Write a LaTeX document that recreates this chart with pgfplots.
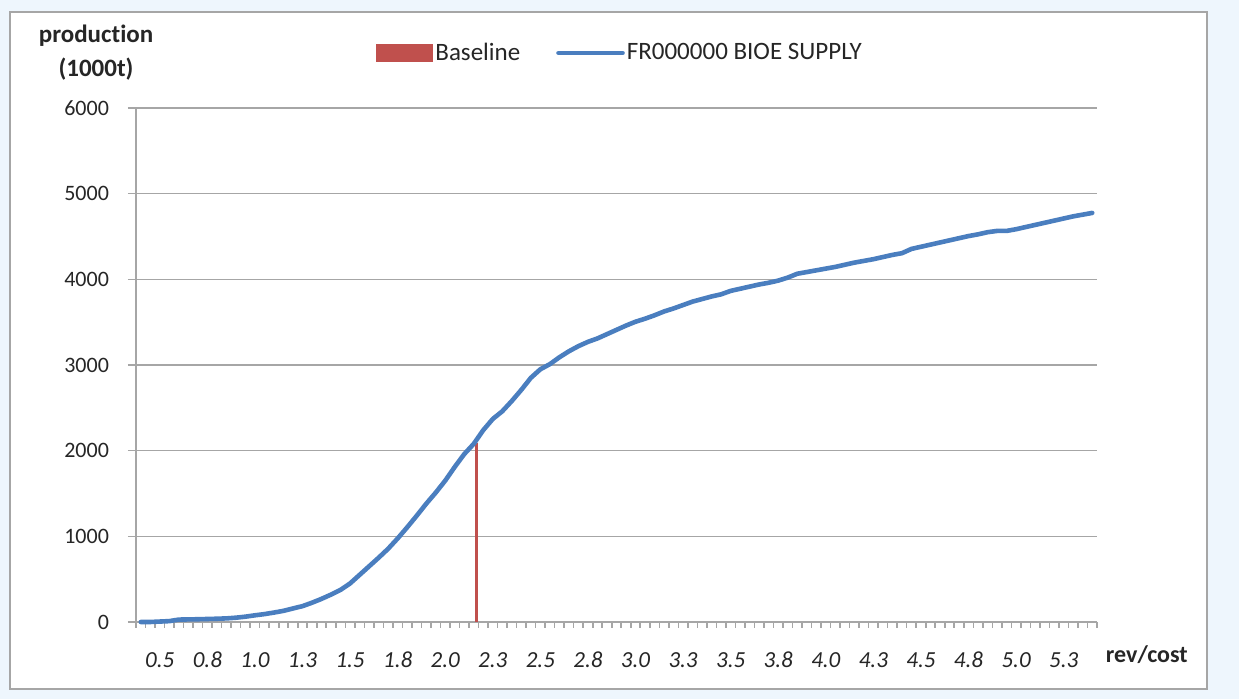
\documentclass[border=0pt]{standalone}
\usepackage{fontspec}
\setmainfont{Carlito}[Ligatures=NoCommon]
\usepackage{pgfplots}
\usepackage{pgfplotstable}
\pgfplotsset{compat=1.18}
\definecolor{bgblue}{HTML}{EEF6FD}
\definecolor{xlred}{HTML}{C0504D}
\definecolor{xlblue}{HTML}{4A7EBF}
\definecolor{gridgray}{HTML}{A6A6A6}
\definecolor{txt}{HTML}{262626}

\pgfplotstableread{
x y
0.40 0
0.45 0
0.50 5
0.55 10
0.60 28
0.65 30
0.70 32
0.75 35
0.80 38
0.85 42
0.90 50
0.95 62
1.00 78
1.05 92
1.10 110
1.15 130
1.20 158
1.25 185
1.30 225
1.35 270
1.40 320
1.45 375
1.50 450
1.55 550
1.60 650
1.65 750
1.70 855
1.75 975
1.80 1105
1.85 1240
1.90 1380
1.95 1510
2.00 1650
2.05 1810
2.10 1960
2.15 2080
2.20 2240
2.25 2370
2.30 2460
2.35 2580
2.40 2710
2.45 2850
2.50 2950
2.55 3010
2.60 3090
2.65 3160
2.70 3220
2.75 3270
2.80 3310
2.85 3360
2.90 3410
2.95 3460
3.00 3505
3.05 3540
3.10 3580
3.15 3625
3.20 3660
3.25 3700
3.30 3740
3.35 3770
3.40 3800
3.45 3825
3.50 3865
3.55 3890
3.60 3915
3.65 3940
3.70 3960
3.75 3985
3.80 4020
3.85 4065
3.90 4085
3.95 4105
4.00 4125
4.05 4145
4.10 4170
4.15 4195
4.20 4215
4.25 4235
4.30 4260
4.35 4285
4.40 4305
4.45 4355
4.50 4380
4.55 4405
4.60 4430
4.65 4455
4.70 4480
4.75 4505
4.80 4525
4.85 4550
4.90 4565
4.95 4565
5.00 4585
5.05 4610
5.10 4635
5.15 4660
5.20 4685
5.25 4710
5.30 4735
5.35 4755
5.40 4775
}\supply

\begin{document}
\begin{tikzpicture}[x=0.5pt,y=0.5pt]
\path[use as bounding box, fill=bgblue] (0,0) rectangle (1239,699);
\draw[fill=white, draw=gridgray, line width=0.8pt] (10,10) rectangle (1207,687);
\begin{axis}[
  at={(68pt,38.5pt)}, anchor=south west,
  scale only axis, width=480.5pt, height=257pt,
  xmin=0.375, xmax=5.425, ymin=0, ymax=6000,
  axis x line*=bottom, axis y line*=left,
  axis line style={gridgray, line width=0.8pt},
  tick align=outside,
  major tick length=4pt,
  minor tick length=2.8pt,
  ytick={0,1000,...,6000},
  yticklabels={0,1000,2000,3000,4000,5000,6000},
  ymajorgrids=true,
  grid style={gridgray, line width=0.8pt},
  y tick style={gridgray, line width=0.8pt},
  yticklabel style={font=\fontsize{11}{13}\selectfont, text=txt, xshift=-6pt},
  minor xtick={0.375,0.425,...,5.43},
  minor x tick style={gridgray, line width=0.8pt},
  xtick={0.5,0.75,1.0,1.25,1.5,1.75,2.0,2.25,2.5,2.75,3.0,3.25,3.5,3.75,4.0,4.25,4.5,4.75,5.0,5.25},
  xticklabels={0.5,0.8,1.0,1.3,1.5,1.8,2.0,2.3,2.5,2.8,3.0,3.3,3.5,3.8,4.0,4.3,4.5,4.8,5.0,5.3},
  major x tick style={draw=none},
  xticklabel style={font=\itshape\fontsize{11.5}{13}\selectfont, text=txt, anchor=center, yshift=-15pt},
  xlabel={rev/cost},
  x label style={at={(axis description cs:1.002,-0.064)}, anchor=west, font=\bfseries\fontsize{12}{14}\selectfont, text=txt},
  ylabel={produc\kern0pt tion\\(1000t)},
  y label style={at={(axis description cs:-0.0416,1.107)}, rotate=-90, anchor=center, align=center, font=\bfseries\fontsize{12.5}{17}\selectfont, text=txt},
  legend columns=2,
  legend style={at={(axis description cs:0.2435,1.107)}, anchor=west, draw=none, fill=none,
     font=\fontsize{12.5}{14}\selectfont, text=txt,
     nodes={inner xsep=1pt},
     /tikz/every even column/.append style={column sep=17pt}},
  clip=false,
]
\addplot[ycomb, xlred, line width=1.5pt,
  legend image code/.code={\fill[xlred] (0pt,-3.75pt) rectangle (27pt,3.75pt);}]
  coordinates {(2.165,2085)};
\addlegendentry{Baseline}
\addplot[xlblue, line width=2.3pt, line join=round, line cap=round,
  legend image code/.code={\draw[xlblue, line width=2.3pt] (0pt,0pt) -- (32pt,0pt);}]
  table[x=x, y=y] {\supply};
\addlegendentry{FR000000 BIOE SUPPLY}
\end{axis}
\end{tikzpicture}
\end{document}
